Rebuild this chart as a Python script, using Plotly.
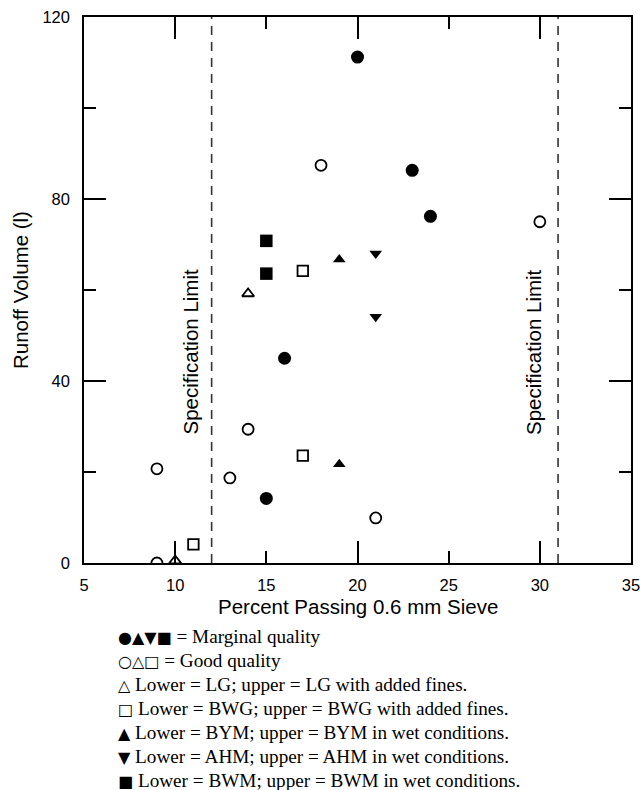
import plotly.graph_objects as go

# ---------------- data ----------------
x_ticks = [5, 10, 15, 20, 25, 30, 35]
x_long_ticks = [10, 20, 30]
y_ticks = [0, 20, 40, 60, 80, 100, 120]
y_tick_labels = ["0", "", "40", "", "80", "", "120"]
y_long_ticks = [40, 80]
spec_limits = [12, 31]
spec_label = "Specification Limit"

marg_circle_x = [20, 23, 24, 16, 15]
marg_circle_y = [111.2, 86.3, 76.2, 45.0, 14.2]
good_circle_x = [18, 30, 14, 9, 13, 21, 9]
good_circle_y = [87.4, 75.0, 29.4, 20.7, 18.7, 9.9, 0.0]
lg_x = [14, 10]
lg_y = [59.2, 0.5]
bwg_x = [17, 17, 11]
bwg_y = [64.2, 23.6, 4.1]
bym_x = [19, 19]
bym_y = [66.7, 21.7]
ahm_x = [21, 21]
ahm_y = [68.0, 54.1]
bwm_x = [15, 15]
bwm_y = [70.8, 63.6]

legend_symbols = ["●▲▼■", "○△□", "△", "□", "▲", "▼", "■"]
legend_texts = [
    " = Marginal quality",
    " = Good quality",
    " Lower = LG; upper = LG with added fines.",
    " Lower = BWG; upper = BWG with added fines.",
    " Lower = BYM; upper = BYM in wet conditions.",
    " Lower = AHM; upper = AHM in wet conditions.",
    " Lower = BWM; upper = BWM in wet conditions.",
]

x_title = "Percent Passing 0.6 mm Sieve"
y_title = "Runoff Volume (l)"

# ---------------- layout geometry ----------------
W, H = 640, 790
ML, MR, MT, MB = 84, 8.5, 16.5, 226.5
PW = W - ML - MR
PH = H - MT - MB


def px_x(px):
    return (px - ML) / PW


def px_y(py):
    return (H - MB - py) / PH


SANS = "Liberation Sans, Arial, sans-serif"
SERIF = "Liberation Serif, Times New Roman, serif"

fig = go.Figure()


def add_pts(xs, ys, symbol, size, lw=0):
    fig.add_trace(go.Scatter(
        x=xs, y=ys, mode="markers", showlegend=False,
        marker=dict(symbol=symbol, size=size, color="black",
                    line=dict(width=lw, color="black")),
        hoverinfo="x+y"))


add_pts(marg_circle_x, marg_circle_y, "circle", 13)
add_pts(good_circle_x, good_circle_y, "circle-open", 11, 1.8)
add_pts(lg_x, lg_y, "triangle-up-open", 10.5, 1.8)
add_pts(bwg_x, bwg_y, "square-open", 10.5, 1.8)
add_pts(bym_x, bym_y, "triangle-up", 11)
add_pts(ahm_x, ahm_y, "triangle-down", 11)
add_pts(bwm_x, bwm_y, "square", 12.5)

# empty trace to hold the overlay axes (long ticks)
fig.add_trace(go.Scatter(x=[], y=[], xaxis="x2", yaxis="y2",
                         showlegend=False, mode="markers"))

# specification limits
for s in spec_limits:
    fig.add_shape(type="line", xref="x", yref="y", x0=s, x1=s, y0=0, y1=120,
                  line=dict(color="#333333", width=1.6, dash="9px,7px"))

spec_shift = [-21, -24]
for s, sh in zip(spec_limits, spec_shift):
    fig.add_annotation(x=s, y=46.4, xref="x", yref="y", text=spec_label,
                       textangle=-90, showarrow=False, xshift=sh,
                       font=dict(family=SANS, size=20.5, color="black"))

# axis titles
fig.add_annotation(x=0.5, y=px_y(607.5), xref="paper", yref="paper", text=x_title,
                   showarrow=False, font=dict(family=SANS, size=20.5, color="black"),
                   xanchor="center", yanchor="middle")
fig.add_annotation(x=px_x(20), y=0.5, xref="paper", yref="paper", text=y_title,
                   textangle=-90, showarrow=False,
                   font=dict(family=SANS, size=20.5, color="black"),
                   xanchor="center", yanchor="middle")

# legend text block
for i, (sym, txt) in enumerate(zip(legend_symbols, legend_texts)):
    html = ('<span style="font-family:DejaVu Sans;font-size:16px">' + sym +
            '</span>' + txt)
    fig.add_annotation(x=px_x(116), y=px_y(637 + 24 * i), xref="paper", yref="paper",
                       text=html, showarrow=False, xanchor="left", yanchor="middle",
                       font=dict(family=SERIF, size=19.2, color="black"))

axis_common = dict(showgrid=False, zeroline=False, ticks="inside",
                   tickcolor="black", tickwidth=1.5, automargin=False)

fig.update_layout(
    width=W, height=H,
    margin=dict(l=ML, r=MR, t=MT, b=MB, pad=0, autoexpand=False),
    paper_bgcolor="white", plot_bgcolor="white",
    showlegend=False,
    xaxis=dict(range=[5, 35], tickmode="array", tickvals=x_ticks,
               ticktext=[str(v) for v in x_ticks], ticklen=12,
               showline=True, linecolor="black", linewidth=1.5, mirror="ticks",
               tickfont=dict(family=SANS, size=16.5, color="black"),
               ticklabelstandoff=6, ticklabeloverflow="allow", **axis_common),
    yaxis=dict(range=[0, 120], tickmode="array", tickvals=y_ticks,
               ticktext=y_tick_labels, ticklen=12,
               showline=True, linecolor="black", linewidth=1.5, mirror="ticks",
               tickfont=dict(family=SANS, size=16.5, color="black"),
               ticklabelstandoff=9, ticklabeloverflow="allow", **axis_common),
    xaxis2=dict(range=[5, 35], overlaying="x", anchor="y", side="bottom",
                tickmode="array", tickvals=x_long_ticks, ticklen=22,
                showticklabels=False, showline=False, mirror="ticks",
                **axis_common),
    yaxis2=dict(range=[0, 120], overlaying="y", anchor="x", side="left",
                tickmode="array", tickvals=y_long_ticks, ticklen=22,
                showticklabels=False, showline=False, mirror="ticks",
                **axis_common),
)

fig.write_html("out.html", config={"displayModeBar": False},
               post_script="document.body.style.margin='0';"
                           "document.body.style.overflow='hidden';")
